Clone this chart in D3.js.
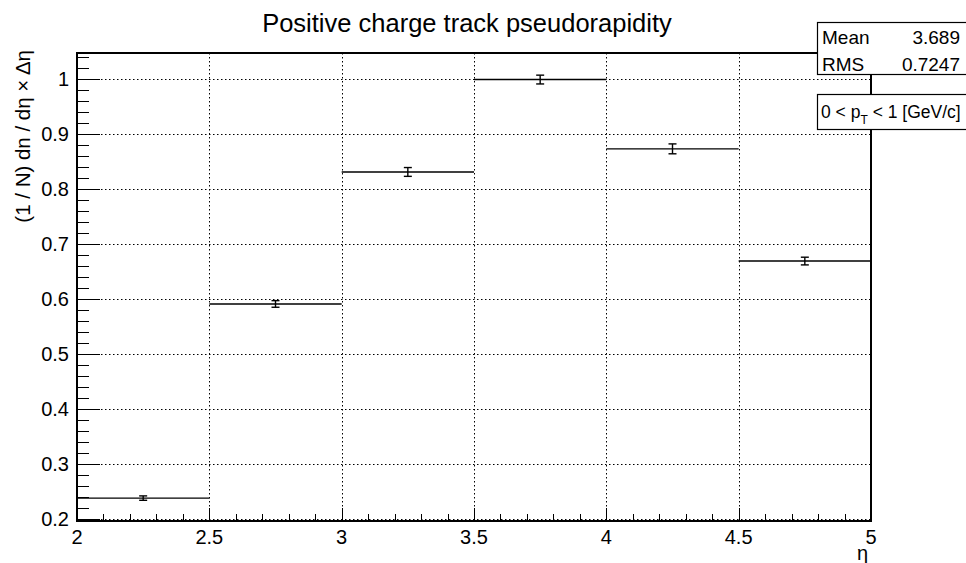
<!DOCTYPE html>
<html><head><meta charset="utf-8">
<script src="https://cdn.jsdelivr.net/npm/d3@7"></script>
<style>body{margin:0;background:#fff}svg{display:block}text{font-family:"Liberation Sans",Arial,Helvetica,sans-serif;fill:#000}</style>
</head><body><svg id="c" width="966" height="563"></svg>
<script>
const binLow = [2.0, 2.5, 3.0, 3.5, 4.0, 4.5];
const binHigh = [2.5, 3.0, 3.5, 4.0, 4.5, 5.0];
const values = [0.238, 0.591, 0.831, 0.999, 0.873, 0.669];
const errors = [0.004, 0.006, 0.008, 0.008, 0.009, 0.007];
const xTicks = [2, 2.5, 3, 3.5, 4, 4.5, 5];
const xTickLabels = ["2", "2.5", "3", "3.5", "4", "4.5", "5"];
const yTicks = [0.2, 0.3, 0.4, 0.5, 0.6, 0.7, 0.8, 0.9, 1.0];
const yTickLabels = ["0.2", "0.3", "0.4", "0.5", "0.6", "0.7", "0.8", "0.9", "1"];
const statsLabels = ["Mean", "RMS"];
const statsValues = ["3.689", "0.7247"];

const svg = d3.select("#c");
const L = 77, R = 871, T = 53, B = 521;
const x = d3.scaleLinear().domain([2, 5]).range([L, R]);
const y = d3.scaleLinear().domain([0.2, 1.0]).range([519, 79]);

// grid
const grid = svg.append("g").attr("stroke", "#000").attr("stroke-width", 1).attr("stroke-dasharray", "1.5,2.5");
xTicks.slice(1, -1).forEach(v => grid.append("line").attr("x1", Math.round(x(v)) + 0.5).attr("x2", Math.round(x(v)) + 0.5).attr("y1", T).attr("y2", B));
yTicks.forEach(v => grid.append("line").attr("x1", L).attr("x2", R).attr("y1", Math.round(y(v)) + 0.5).attr("y2", Math.round(y(v)) + 0.5));

// ticks
const tk = svg.append("g").attr("stroke", "#000").attr("stroke-width", 1);
d3.range(200, 1041, 20).map(v => v / 1000).forEach(v => {
  const yy = Math.round(y(v)) + 0.5;
  if (yy < T || yy > B) return;
  const major = Math.abs(v * 10 - Math.round(v * 10)) < 1e-6;
  tk.append("line").attr("x1", L).attr("x2", L + (major ? 23 : 12)).attr("y1", yy).attr("y2", yy);
});
d3.range(20, 51).map(v => v / 10).forEach(v => {
  const xx = Math.round(x(v)) + 0.5;
  const major = Math.abs(v * 2 - Math.round(v * 2)) < 1e-6;
  tk.append("line").attr("x1", xx).attr("x2", xx).attr("y1", B).attr("y2", B - (major ? 13 : 7));
});

// frame
svg.append("rect").attr("x", L).attr("y", T).attr("width", R - L).attr("height", B - T)
  .attr("fill", "none").attr("stroke", "#000").attr("stroke-width", 2);

// tick labels
xTicks.forEach((v, i) => svg.append("text").attr("x", x(v)).attr("y", 544).attr("text-anchor", "middle")
  .attr("font-size", 20).text(xTickLabels[i]));
yTicks.forEach((v, i) => svg.append("text").attr("x", 69).attr("y", y(v) + 7).attr("text-anchor", "end")
  .attr("font-size", 20).text(yTickLabels[i]));

// data
const dg = svg.append("g").attr("stroke", "#000");
values.forEach((v, i) => {
  const yy = y(v), xc = x((binLow[i] + binHigh[i]) / 2);
  dg.append("line").attr("x1", x(binLow[i])).attr("x2", x(binHigh[i])).attr("y1", yy).attr("y2", yy).attr("stroke-width", 1.4);
  const y1 = y(v + errors[i]), y2 = y(v - errors[i]);
  dg.append("line").attr("x1", xc).attr("x2", xc).attr("y1", y1).attr("y2", y2).attr("stroke-width", 1.4);
  dg.append("line").attr("x1", xc - 4).attr("x2", xc + 4).attr("y1", y1).attr("y2", y1).attr("stroke-width", 1.4);
  dg.append("line").attr("x1", xc - 4).attr("x2", xc + 4).attr("y1", y2).attr("y2", y2).attr("stroke-width", 1.4);
});

// title
svg.append("text").attr("x", 467).attr("y", 32).attr("text-anchor", "middle").attr("font-size", 25.5)
  .text("Positive charge track pseudorapidity");

// axis titles
svg.append("text").attr("x", 868).attr("y", 560).attr("text-anchor", "end").attr("font-size", 20).text("η");
svg.append("text").attr("transform", "translate(30,50) rotate(-90)").attr("text-anchor", "end")
  .attr("font-size", 20.5).text("(1 / N) dn / dη × Δη");

// stats box
svg.append("rect").attr("x", 817.5).attr("y", 22.5).attr("width", 160).attr("height", 52)
  .attr("fill", "#fff").attr("stroke", "#000").attr("stroke-width", 1.2);
statsLabels.forEach((s, i) => {
  svg.append("text").attr("x", 822).attr("y", 44 + i * 27).attr("font-size", 19).text(s);
  svg.append("text").attr("x", 960).attr("y", 44 + i * 27).attr("text-anchor", "end").attr("font-size", 19).text(statsValues[i]);
});

// legend box
svg.append("rect").attr("x", 817.5).attr("y", 94.5).attr("width", 160).attr("height", 35)
  .attr("fill", "#fff").attr("stroke", "#000").attr("stroke-width", 1.2);
const lt = svg.append("text").attr("x", 821).attr("y", 118).attr("font-size", 17.5);
lt.append("tspan").text("0 < p");
lt.append("tspan").attr("font-size", 12).attr("dy", 6).text("T");
lt.append("tspan").attr("dy", -6).text(" < 1 [GeV/c]");
</script></body></html>
